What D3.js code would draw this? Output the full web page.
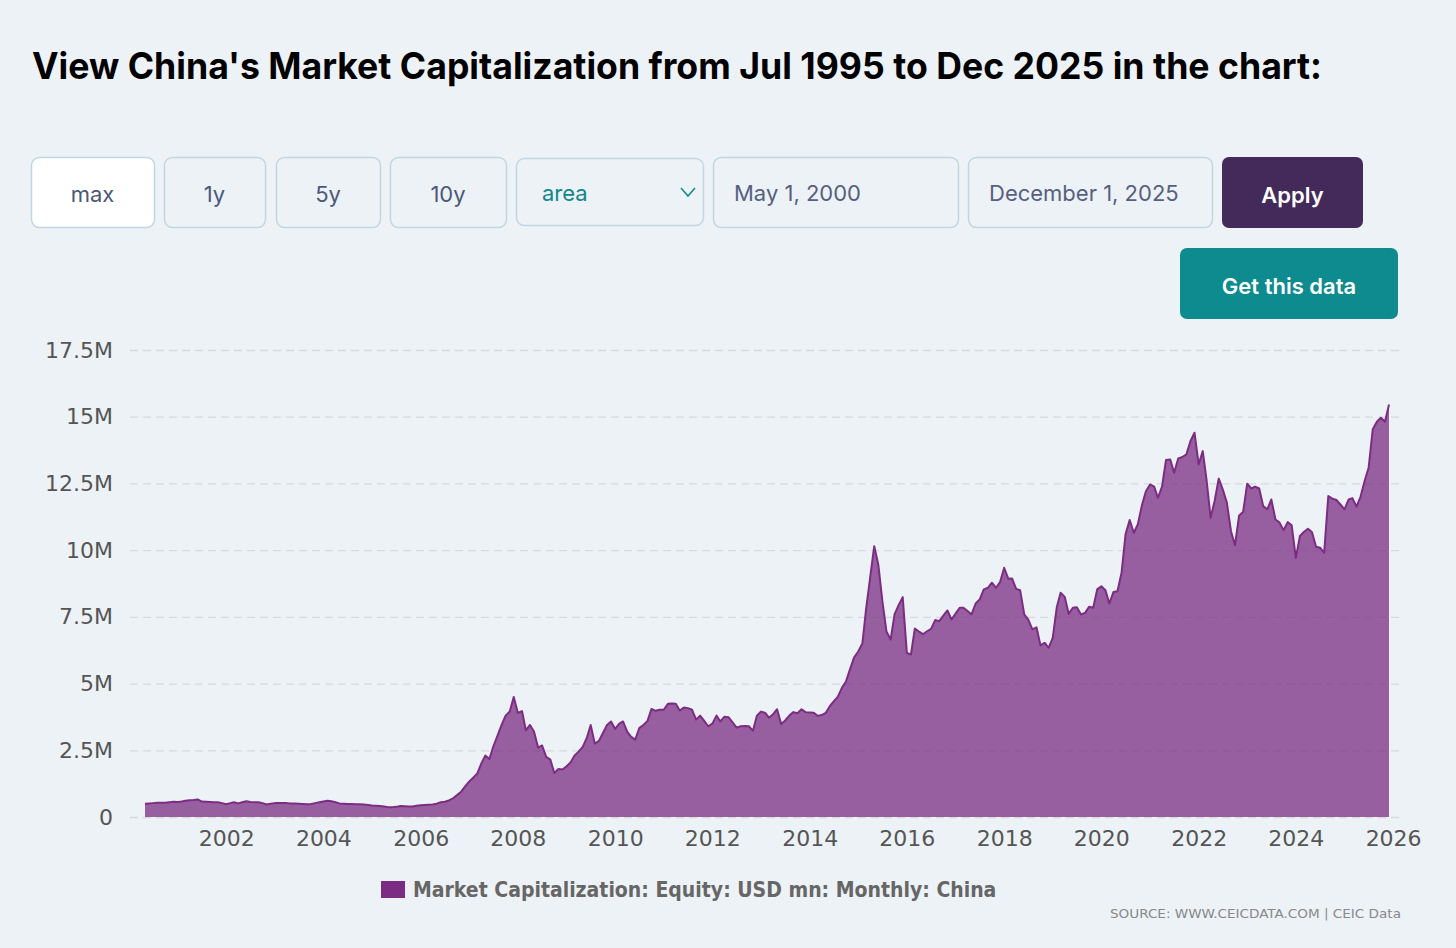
<!DOCTYPE html>
<html>
<head>
<meta charset="utf-8">
<title>China Market Capitalization</title>
<script src="https://cdn.jsdelivr.net/npm/d3@7"></script>
<style>
  body { margin: 0; background: #edf2f7; }
  svg { display: block; }
</style>
</head>
<body>
<script>

// monthly values from May 2000, in millions of USD mn
let firstMonth = new Date(2000, 4, 1);
let marketCap = [
  0.50, 0.51, 0.52, 0.53, 0.53, 0.53, 0.55, 0.57,                         // 2000 May-Dec
  0.56, 0.58, 0.61, 0.63, 0.64, 0.66, 0.58, 0.57, 0.56, 0.55, 0.55, 0.52, // 2001
  0.48, 0.52, 0.55, 0.51, 0.55, 0.59, 0.56, 0.55, 0.55, 0.52, 0.47, 0.50, // 2002
  0.52, 0.52, 0.52, 0.52, 0.51, 0.51, 0.50, 0.49, 0.48, 0.49, 0.52, 0.55, // 2003
  0.58, 0.61, 0.59, 0.55, 0.51, 0.50, 0.49, 0.49, 0.48, 0.48, 0.47, 0.45, // 2004
  0.43, 0.42, 0.41, 0.39, 0.37, 0.37, 0.38, 0.41, 0.40, 0.39, 0.39, 0.42, // 2005
  0.44, 0.45, 0.46, 0.47, 0.50, 0.55, 0.57, 0.62, 0.70, 0.82, 0.95, 1.15, // 2006
  1.33, 1.48, 1.62, 2.00, 2.30, 2.17, 2.65, 3.05, 3.45, 3.80, 3.95, 4.50, // 2007
  3.90, 3.97, 3.25, 3.45, 3.20, 2.60, 2.68, 2.25, 2.15, 1.65, 1.80, 1.78, // 2008
  1.90, 2.05, 2.30, 2.45, 2.62, 2.95, 3.45, 2.75, 2.85, 3.15, 3.45, 3.58, // 2009
  3.30, 3.50, 3.58, 3.20, 3.00, 2.90, 3.33, 3.45, 3.60, 4.05, 3.98, 4.02, // 2010
  4.02, 4.24, 4.25, 4.24, 3.99, 4.10, 4.08, 4.02, 3.65, 3.80, 3.60, 3.40, // 2011
  3.50, 3.80, 3.58, 3.76, 3.74, 3.55, 3.35, 3.40, 3.41, 3.40, 3.23, 3.80, // 2012
  3.95, 3.90, 3.72, 3.85, 4.04, 3.48, 3.62, 3.80, 3.93, 3.89, 4.04, 3.93, // 2013
  3.92, 3.91, 3.79, 3.82, 3.90, 4.15, 4.33, 4.51, 4.85, 5.08, 5.55, 5.98, // 2014
  6.20, 6.50, 7.80, 9.00, 10.15, 9.45, 8.10, 6.95, 6.65, 7.60, 7.95, 8.24, // 2015
  6.15, 6.09, 7.06, 6.95, 6.85, 6.96, 7.05, 7.38, 7.34, 7.55, 7.74, 7.40, // 2016
  7.62, 7.84, 7.84, 7.72, 7.59, 8.00, 8.15, 8.53, 8.59, 8.78, 8.59, 8.80, // 2017
  9.34, 8.93, 8.94, 8.55, 8.50, 7.59, 7.40, 7.03, 7.11, 6.43, 6.53, 6.34, // 2018
  6.71, 7.88, 8.40, 8.25, 7.61, 7.84, 7.86, 7.59, 7.65, 7.88, 7.84, 8.53, // 2019
  8.65, 8.50, 8.00, 8.43, 8.46, 9.15, 10.59, 11.13, 10.65, 10.96, 11.68, 12.21, // 2020
  12.46, 12.38, 11.96, 12.38, 13.38, 13.40, 12.90, 13.44, 13.49, 13.59, 14.09, 14.40, // 2021
  13.21, 13.71, 12.65, 11.21, 11.84, 12.68, 12.28, 11.78, 10.71, 10.18, 11.30, 11.43, // 2022
  12.49, 12.31, 12.38, 12.31, 11.65, 11.53, 11.90, 11.15, 11.03, 10.75, 11.05, 10.93, // 2023
  9.71, 10.53, 10.68, 10.80, 10.68, 10.13, 10.09, 9.90, 12.03, 11.93, 11.88, 11.71,   // 2024
  11.53, 11.90, 11.95, 11.63, 12.00, 12.59, 13.09, 14.53, 14.81, 14.96, 14.81, 15.46  // 2025
];

let yTicks = [0, 2.5, 5, 7.5, 10, 12.5, 15, 17.5];
let xTickYears = [2002, 2004, 2006, 2008, 2010, 2012, 2014, 2016, 2018, 2020, 2022, 2024, 2026];

let titleText = "View China's Market Capitalization from Jul 1995 to Dec 2025 in the chart:";
let rangeButtons = ["max", "1y", "5y", "10y"];
let chartType = "area";
let dateFields = ["May 1, 2000", "December 1, 2025"];
let seriesName = "Market Capitalization: Equity: USD mn: Monthly: China";
let sourceText = "SOURCE: WWW.CEICDATA.COM | CEIC Data";

let data = marketCap.map((v, i) => ({date: d3.timeMonth.offset(firstMonth, i), value: v}));

let width = 1456, height = 948;
let purple = "#7b2d83";

let svg = d3.select("body").append("svg")
    .attr("width", width)
    .attr("height", height)

svg.append("rect").attr("width", width).attr("height", height).attr("fill", "#edf2f7")

// squeeze a text into a given width if it comes out wider/narrower
function fitText(sel, w) {
    let len = sel.node().getComputedTextLength();
    if (Math.abs(len - w) > 3) sel.attr("textLength", w).attr("lengthAdjust", "spacingAndGlyphs");
}

// title
svg.append("text")
    .attr("x", 32).attr("y", 79)
    .attr("font-family", "Inter, 'Liberation Sans', sans-serif")
    .attr("font-weight", 700)
    .attr("font-size", 37)
    .attr("fill", "#000")
    .text(titleText)
    .call(fitText, 1290)

// control row
let uiFont = "Inter, 'Noto Sans', sans-serif";
let boxes = [
    {x: 31, w: 123, label: rangeButtons[0], fill: "#ffffff"},
    {x: 164, w: 101, label: rangeButtons[1], fill: "none"},
    {x: 276, w: 104, label: rangeButtons[2], fill: "none"},
    {x: 390, w: 116, label: rangeButtons[3], fill: "none"}
];

let ctrl = svg.append("g");

ctrl.selectAll("g.btn")
    .data(boxes)
    .join("g")
    .attr("class", "btn")
    .each(function(d) {
        let g = d3.select(this);
        g.append("rect")
            .attr("x", d.x + 0.5).attr("y", 157.5)
            .attr("width", d.w).attr("height", 70)
            .attr("rx", 8)
            .attr("fill", d.fill)
            .attr("stroke", "#c2d6e1").attr("stroke-width", 1.5)
        g.append("text")
            .attr("x", d.x + d.w / 2).attr("y", 202)
            .attr("text-anchor", "middle")
            .attr("font-family", uiFont).attr("font-size", 22)
            .attr("fill", "#4b587a")
            .text(d.label)
    })

// chart type select
ctrl.append("rect")
    .attr("x", 516.5).attr("y", 158.5).attr("width", 187).attr("height", 67).attr("rx", 8)
    .attr("fill", "none").attr("stroke", "#c2d6e1").attr("stroke-width", 1.5)
ctrl.append("text")
    .attr("x", 542).attr("y", 201)
    .attr("font-family", uiFont).attr("font-size", 22)
    .attr("fill", "#10878a")
    .text(chartType)
ctrl.append("path")
    .attr("d", "M681,188 L688,196 L695,188")
    .attr("fill", "none").attr("stroke", "#10878a").attr("stroke-width", 1.5)

// date fields
let dateBoxes = [{x: 713, w: 245}, {x: 968, w: 244}];
dateBoxes.forEach((b, i) => {
    ctrl.append("rect")
        .attr("x", b.x + 0.5).attr("y", 157.5).attr("width", b.w).attr("height", 70).attr("rx", 8)
        .attr("fill", "none").attr("stroke", "#c2d6e1").attr("stroke-width", 1.5)
    ctrl.append("text")
        .attr("x", b.x + 21).attr("y", 201)
        .attr("font-family", uiFont).attr("font-size", 22)
        .attr("fill", "#56607e")
        .text(dateFields[i])
})

// Apply + Get this data
ctrl.append("rect")
    .attr("x", 1222).attr("y", 157).attr("width", 141).attr("height", 71).attr("rx", 7)
    .attr("fill", "#432a5a")
ctrl.append("text")
    .attr("x", 1292.5).attr("y", 203)
    .attr("text-anchor", "middle")
    .attr("font-family", uiFont).attr("font-size", 22).attr("font-weight", 600)
    .attr("fill", "#ffffff")
    .text("Apply")

ctrl.append("rect")
    .attr("x", 1180).attr("y", 248).attr("width", 218).attr("height", 71).attr("rx", 7)
    .attr("fill", "#0e8b8e")
ctrl.append("text")
    .attr("x", 1289).attr("y", 294)
    .attr("text-anchor", "middle")
    .attr("font-family", uiFont).attr("font-size", 22).attr("font-weight", 600)
    .attr("fill", "#ffffff")
    .text("Get this data")

// chart
let chartFont = "'DejaVu Sans', Verdana, sans-serif";
let condFont = "'DejaVu Sans Condensed', 'DejaVu Sans', sans-serif";

let x = d3.scaleTime()
    .domain([firstMonth, data[data.length - 1].date])
    .range([145, 1389])

let y = d3.scaleLinear()
    .domain([0, 17.5])
    .range([817, 350])

let yAxis = svg.append("g")
    .attr("transform", "translate(130,0)")
    .call(d3.axisLeft(y)
        .tickValues(yTicks)
        .tickSize(-(1402 - 130))
        .tickPadding(17)
        .tickFormat(d => d === 0 ? "0" : d + "M"))

yAxis.select(".domain").remove()
yAxis.selectAll(".tick line")
    .attr("stroke", "#d6d9de")
    .attr("stroke-width", 1.3)
    .attr("stroke-dasharray", "8,5")
yAxis.selectAll(".tick text")
    .attr("font-family", chartFont)
    .attr("font-size", 22)
    .attr("fill", "#555")

let xAxis = svg.append("g")
    .attr("transform", "translate(0,817)")
    .call(d3.axisBottom(x)
        .tickValues(xTickYears.map(yr => new Date(yr, 0, 1)))
        .tickSize(0)
        .tickPadding(13)
        .tickFormat(d3.timeFormat("%Y")))

xAxis.select(".domain").remove()
xAxis.selectAll(".tick text")
    .attr("font-family", chartFont)
    .attr("font-size", 22)
    .attr("fill", "#555")

let area = d3.area()
    .x(d => x(d.date))
    .y0(y(0))
    .y1(d => y(d.value))

let line = d3.line()
    .x(d => x(d.date))
    .y(d => y(d.value))

svg.append("path")
    .datum(data)
    .attr("d", area)
    .attr("fill", purple)
    .attr("fill-opacity", 0.75)

svg.append("path")
    .datum(data)
    .attr("d", line)
    .attr("fill", "none")
    .attr("stroke", purple)
    .attr("stroke-width", 2)
    .attr("stroke-linejoin", "round")

// legend
svg.append("rect")
    .attr("x", 381).attr("y", 881).attr("width", 24).attr("height", 17)
    .attr("fill", purple)
svg.append("text")
    .attr("x", 413).attr("y", 897)
    .attr("font-family", condFont)
    .attr("font-weight", 700)
    .attr("font-size", 21)
    .attr("fill", "#666")
    .text(seriesName)
    .call(fitText, 584)

svg.append("text")
    .attr("x", 1401).attr("y", 918)
    .attr("text-anchor", "end")
    .attr("font-family", condFont)
    .attr("font-size", 13)
    .attr("fill", "#888")
    .text(sourceText)
    .call(fitText, 291)

</script>
</body>
</html>
